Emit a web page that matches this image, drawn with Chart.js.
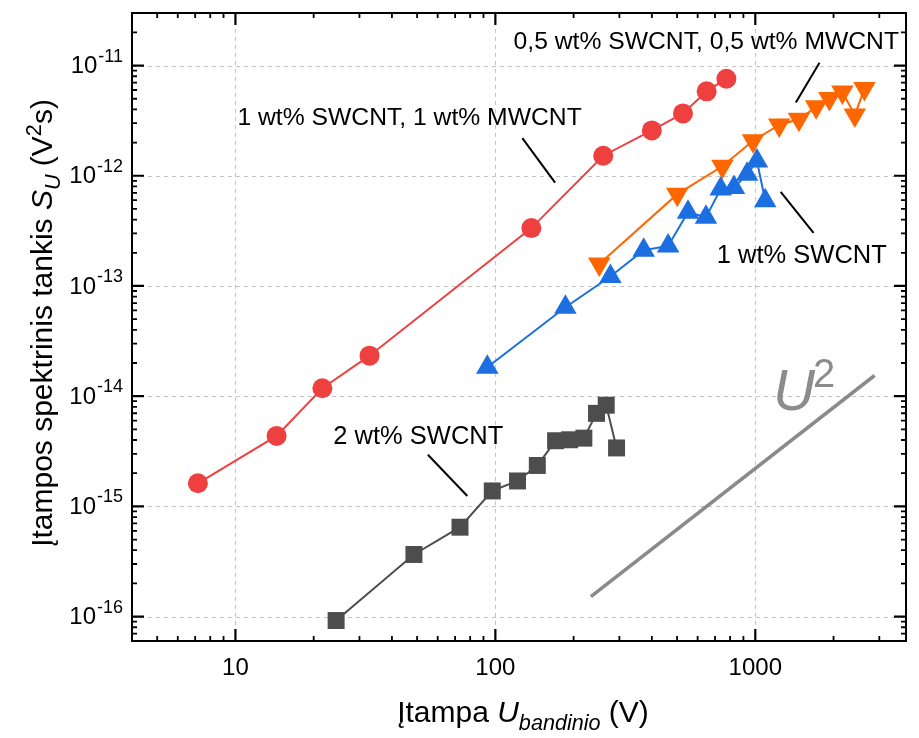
<!DOCTYPE html>
<html>
<head>
<meta charset="utf-8">
<script src="https://cdn.jsdelivr.net/npm/chart.js@4.4.0/dist/chart.umd.min.js"></script>
<style>
  html, body { margin: 0; padding: 0; background: #fff; }
  #wrap { width: 919px; height: 738px; }
</style>
</head>
<body>
<div id="wrap"><canvas id="myChart" width="919" height="738"></canvas></div>
<script>
// 1 wt% SWCNT, 1 wt% MWCNT
var redU = [7.17, 14.4, 21.6, 32.8, 137.5, 260, 400, 527, 650, 774];
var redS = [1.62e-15, 4.36e-15, 1.18e-14, 2.33e-14, 3.35e-13, 1.52e-12, 2.58e-12, 3.68e-12, 5.84e-12, 7.6e-12];

// 0,5 wt% SWCNT, 0,5 wt% MWCNT
var orangeU = [251, 501, 747, 980, 1236, 1472, 1714, 1928, 2163, 2415, 2630];
var orangeS = [1.58e-13, 6.81e-13, 1.22e-12, 2.08e-12, 2.89e-12, 3.26e-12, 4.22e-12, 5.02e-12, 5.75e-12, 3.56e-12, 6.18e-12];

// 1 wt% SWCNT
var blueU = [93.1, 186, 277, 372, 462, 551, 646, 736, 828, 930, 1015, 1092];
var blueS = [1.83e-14, 6.41e-14, 1.22e-13, 2.11e-13, 2.31e-13, 4.67e-13, 4.21e-13, 7.57e-13, 7.82e-13, 1.03e-12, 1.36e-12, 5.94e-13];

// 2 wt% SWCNT
var grayU = [24.4, 48.6, 73.1, 97.3, 121.7, 145, 170.5, 193, 219, 245, 267, 292.6];
var grayS = [9.2e-17, 3.66e-16, 6.47e-16, 1.38e-15, 1.70e-15, 2.35e-15, 3.94e-15, 4.02e-15, 4.16e-15, 6.98e-15, 8.28e-15, 3.39e-15];

// U^2 guide line
var slopeU = [233, 2877];
var slopeS = [1.52e-16, 1.54e-14];

// axes
var xMin = 4, xMax = 3800;
var yMin = 6e-17, yMax = 3e-11;
var xTicks = [10, 100, 1000];
var xTickLabels = ['10', '100', '1000'];
var yTicks = [1e-16, 1e-15, 1e-14, 1e-13, 1e-12, 1e-11];
var yTickExp = ['-16', '-15', '-14', '-13', '-12', '-11'];

// annotations (anchor in data units)
var noteText = ['1 wt% SWCNT, 1 wt% MWCNT', '0,5 wt% SWCNT, 0,5 wt% MWCNT', '1 wt% SWCNT', '2 wt% SWCNT'];
var noteU = [10.18, 117.5, 711, 23.8];
var noteS = [3.33e-12, 1.63e-11, 1.88e-13, 4.28e-15];
var leadU = [[127, 169.7], [1766, 1432], [1252, 1675], [55, 78]];
var leadS = [[2.2e-12, 8.67e-13], [1.06e-11, 4.63e-12], [7.16e-13, 3.04e-13], [2.94e-15, 1.24e-15]];
var slopeLabelU = 1170, slopeLabelS = 7.46e-15;

var FONT = '"Liberation Sans", Arial, sans-serif';
function fnt(size, italic) { return (italic ? 'italic ' : '') + size + 'px ' + FONT; }

function pts(xs, ys) {
  return xs.map(function (v, i) { return { x: v, y: ys[i] }; });
}

function runsWidth(ctx, runs, size) {
  var w = 0;
  runs.forEach(function (r) {
    ctx.font = fnt(r.sub || r.sup ? size * 0.72 : size, r.it);
    w += ctx.measureText(r.t).width;
  });
  return w;
}
function drawRuns(ctx, runs, x, y, size) {
  runs.forEach(function (r) {
    var s = r.sub || r.sup ? size * 0.72 : size;
    ctx.font = fnt(s, r.it);
    var dy = r.sub ? size * 0.25 : (r.sup ? -size * 0.38 : 0);
    ctx.fillText(r.t, x, y + dy);
    x += ctx.measureText(r.t).width;
  });
}

var yTitle = [
  { t: 'Įtampos spektrinis tankis ' }, { t: 'S', it: true }, { t: 'U', it: true, sub: true },
  { t: ' (V' }, { t: '2', sup: true }, { t: 's)' }
];
var xTitle = [
  { t: 'Įtampa ' }, { t: 'U', it: true }, { t: 'bandinio', it: true, sub: true }, { t: ' (V)' }
];

var gridPlugin = {
  id: 'gridLines',
  beforeDatasetsDraw: function (chart) {
    var ctx = chart.ctx, ca = chart.chartArea, xs = chart.scales.x, ys = chart.scales.y;
    ctx.save();
    ctx.strokeStyle = '#c4c4c4';
    ctx.lineWidth = 1;
    ctx.setLineDash([4, 4]);
    xTicks.forEach(function (v) {
      var px = Math.round(xs.getPixelForValue(v)) + 0.5;
      ctx.beginPath(); ctx.moveTo(px, ca.top); ctx.lineTo(px, ca.bottom); ctx.stroke();
    });
    yTicks.forEach(function (v) {
      var py = Math.round(ys.getPixelForValue(v)) + 0.5;
      ctx.beginPath(); ctx.moveTo(ca.left, py); ctx.lineTo(ca.right, py); ctx.stroke();
    });
    ctx.restore();
  }
};

var framePlugin = {
  id: 'frame',
  afterDraw: function (chart) {
    var ctx = chart.ctx, ca = chart.chartArea, xs = chart.scales.x, ys = chart.scales.y;
    ctx.save();
    ctx.strokeStyle = '#000';
    ctx.lineWidth = 2;
    ctx.strokeRect(ca.left, ca.top, ca.right - ca.left, ca.bottom - ca.top);

    // ticks, pointing inward on all four sides
    var e, m, v, p, len;
    for (e = 0; e <= 3; e++) {
      for (m = 1; m <= 9; m++) {
        v = m * Math.pow(10, e);
        if (v < xMin || v > xMax) continue;
        p = xs.getPixelForValue(v);
        len = m === 1 ? 12 : 5;
        ctx.lineWidth = m === 1 ? 2.2 : 1.8;
        ctx.beginPath();
        ctx.moveTo(p, ca.bottom); ctx.lineTo(p, ca.bottom - len);
        ctx.moveTo(p, ca.top); ctx.lineTo(p, ca.top + len);
        ctx.stroke();
      }
    }
    for (e = -17; e <= -11; e++) {
      for (m = 1; m <= 9; m++) {
        v = m * Math.pow(10, e);
        if (v < yMin || v > yMax) continue;
        p = ys.getPixelForValue(v);
        len = m === 1 ? 12 : 5;
        ctx.lineWidth = m === 1 ? 2.2 : 1.8;
        ctx.beginPath();
        ctx.moveTo(ca.left, p); ctx.lineTo(ca.left + len, p);
        ctx.moveTo(ca.right, p); ctx.lineTo(ca.right - len, p);
        ctx.stroke();
      }
    }

    // tick labels
    ctx.fillStyle = '#000';
    ctx.font = fnt(24);
    ctx.textAlign = 'center';
    ctx.textBaseline = 'middle';
    xTicks.forEach(function (v, i) {
      ctx.fillText(xTickLabels[i], xs.getPixelForValue(v), ca.bottom + 27);
    });
    ctx.textAlign = 'left';
    yTicks.forEach(function (v, i) {
      var py = ys.getPixelForValue(v);
      ctx.font = fnt(18);
      var ew = ctx.measureText(yTickExp[i]).width;
      ctx.font = fnt(24);
      var bw = ctx.measureText('10').width;
      var x0 = ca.left - 10 - ew - bw;
      ctx.fillText('10', x0, py + 1);
      ctx.font = fnt(18);
      ctx.fillText(yTickExp[i], x0 + bw + 1, py - 9);
    });

    // axis titles
    ctx.textBaseline = 'alphabetic';
    var ts = 30;
    var w = runsWidth(ctx, xTitle, ts);
    drawRuns(ctx, xTitle, (ca.left + ca.right) / 2 - w / 2 + 4, 722, ts);
    ctx.translate(52, (ca.top + ca.bottom) / 2 - 4);
    ctx.rotate(-Math.PI / 2);
    w = runsWidth(ctx, yTitle, ts);
    drawRuns(ctx, yTitle, -w / 2, 0, ts);
    ctx.restore();

    // annotations with leader lines
    ctx.save();
    ctx.fillStyle = '#000';
    ctx.strokeStyle = '#000';
    ctx.lineWidth = 2;
    ctx.textAlign = 'left';
    ctx.textBaseline = 'middle';
    noteText.forEach(function (t, i) {
      ctx.font = fnt(i < 2 ? 24.7 : 25.5);
      ctx.fillText(t, xs.getPixelForValue(noteU[i]), ys.getPixelForValue(noteS[i]));
      ctx.beginPath();
      ctx.moveTo(xs.getPixelForValue(leadU[i][0]), ys.getPixelForValue(leadS[i][0]));
      ctx.lineTo(xs.getPixelForValue(leadU[i][1]), ys.getPixelForValue(leadS[i][1]));
      ctx.stroke();
    });
    // U^2 label
    ctx.fillStyle = '#8c8c8c';
    ctx.textBaseline = 'alphabetic';
    var lx = xs.getPixelForValue(slopeLabelU), ly = ys.getPixelForValue(slopeLabelS);
    ctx.font = fnt(58, true);
    ctx.fillText('U', lx, ly);
    var uw = ctx.measureText('U').width;
    ctx.font = fnt(40);
    ctx.fillText('2', lx + uw - 2, ly - 23);
    ctx.restore();
  }
};

var ctx1 = document.getElementById('myChart');

var datasets = [
  {
    label: '1 wt% SWCNT',
    data: pts(blueU, blueS),
    showLine: true,
    borderColor: '#1b6fe0',
    backgroundColor: '#1b6fe0',
    borderWidth: 2,
    pointStyle: 'triangle',
    pointRadius: 13,
    pointBorderWidth: 0
  },
  {
    label: '0,5 wt% SWCNT, 0,5 wt% MWCNT',
    data: pts(orangeU, orangeS),
    showLine: true,
    borderColor: '#ff6600',
    backgroundColor: '#ff6600',
    borderWidth: 2,
    pointStyle: 'triangle',
    pointRotation: 180,
    pointRadius: 13,
    pointBorderWidth: 0
  },
  {
    label: '1 wt% SWCNT, 1 wt% MWCNT',
    data: pts(redU, redS),
    showLine: true,
    borderColor: '#ef4040',
    backgroundColor: '#ef4040',
    borderWidth: 2,
    pointStyle: 'circle',
    pointRadius: 10,
    pointBorderWidth: 0
  },
  {
    label: '2 wt% SWCNT',
    data: pts(grayU, grayS),
    showLine: true,
    borderColor: '#4d4d4d',
    backgroundColor: '#4d4d4d',
    borderWidth: 2,
    pointStyle: 'rect',
    pointRadius: 12,
    pointBorderWidth: 0
  },
  {
    label: 'U2',
    data: pts(slopeU, slopeS),
    showLine: true,
    borderColor: '#8a8a8a',
    borderWidth: 3.5,
    pointRadius: 0
  }
];

const config = {
  type: 'scatter',
  data: { datasets: datasets },
  options: {
    responsive: false,
    animation: false,
    layout: { padding: { left: 132, top: 8, right: 1, bottom: 97 } },
    plugins: { legend: { display: false }, tooltip: { enabled: false } },
    scales: {
      x: { type: 'logarithmic', min: xMin, max: xMax, display: false },
      y: { type: 'logarithmic', min: yMin, max: yMax, display: false }
    }
  },
  plugins: [gridPlugin, framePlugin]
};
const myChart = new Chart(ctx1, config);
</script>
</body>
</html>
